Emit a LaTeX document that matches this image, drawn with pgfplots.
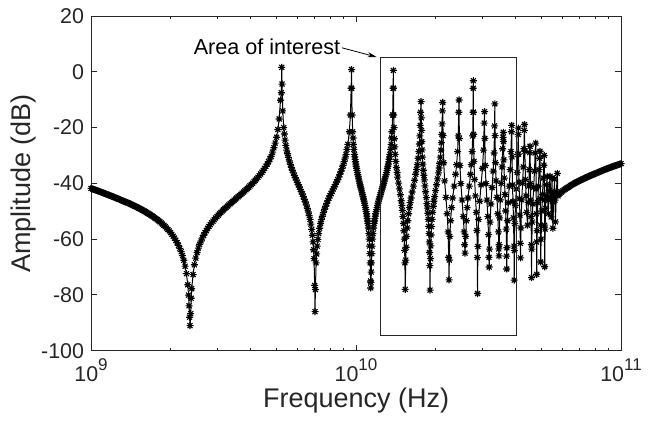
\documentclass[border=0pt]{standalone}
\usepackage{fontspec}
\setmainfont{Liberation Sans}
\usepackage{pgfplots}
\pgfplotsset{compat=1.18}
\usetikzlibrary{arrows.meta}
\definecolor{axgray}{RGB}{38,38,38}
\newcommand\expo[1]{\raisebox{0.52em}{\fontsize{8.5}{10}\selectfont #1}}
\pgfdeclareplotmark{mstar}{%
  \pgfpathmoveto{\pgfqpoint{-\pgfplotmarksize}{0pt}}\pgfpathlineto{\pgfqpoint{\pgfplotmarksize}{0pt}}%
  \pgfpathmoveto{\pgfqpoint{0pt}{-\pgfplotmarksize}}\pgfpathlineto{\pgfqpoint{0pt}{\pgfplotmarksize}}%
  \pgfpathmoveto{\pgfqpoint{-0.707\pgfplotmarksize}{-0.707\pgfplotmarksize}}\pgfpathlineto{\pgfqpoint{0.707\pgfplotmarksize}{0.707\pgfplotmarksize}}%
  \pgfpathmoveto{\pgfqpoint{-0.707\pgfplotmarksize}{0.707\pgfplotmarksize}}\pgfpathlineto{\pgfqpoint{0.707\pgfplotmarksize}{-0.707\pgfplotmarksize}}%
  \pgfusepathqstroke}
\begin{document}
\begin{tikzpicture}[x=1pt,y=1pt]
\useasboundingbox (0,0) rectangle (328,212.5);
\begin{axis}[
  at={(45.5pt,37.15pt)}, anchor=south west,
  scale only axis, width=265pt, height=167.35pt,
  xmode=log, xmin=1e9, xmax=1e11, ymin=-100, ymax=20,
  xtick={1e9,1e10,1e11},
  xticklabels={10\expo{9},10\expo{10},10\expo{11}},
  minor xtick={2e9,3e9,4e9,5e9,6e9,7e9,8e9,9e9,2e10,3e10,4e10,5e10,6e10,7e10,8e10,9e10},
  ytick={-100,-80,-60,-40,-20,0,20},
  yticklabels={-100,-80,-60,-40,-20,0,20},
  tick align=inside, tick pos=both,
  major tick length=2.8pt, minor tick length=1.6pt,
  axis line style={axgray, line width=0.5pt},
  every tick/.style={axgray, line width=0.5pt},
  tick label style={font=\fontsize{10.7}{12}\selectfont, text=axgray},
  xticklabel style={yshift=-0.5pt},
  xlabel={Frequency (Hz)}, ylabel={Amplitude (dB)},
  label style={font=\fontsize{13.5}{15}\selectfont, text=axgray},
  xlabel style={at={(axis description cs:0.5,-0.148)}, anchor=center},
  ylabel style={at={(axis description cs:-0.1283,0.5)}, anchor=center},
  clip mode=individual,
  /pgf/number format/assume math mode=true,
]
\addplot[black, line width=0.5pt, mark=mstar, mark size=1.75pt, mark options={solid, line width=0.55pt}] coordinates {
(1.0000e9,-41.80) (1.0116e9,-41.98) (1.0233e9,-42.15) (1.0351e9,-42.33) (1.0471e9,-42.50)
(1.0592e9,-42.68) (1.0715e9,-42.86) (1.0839e9,-43.03) (1.0965e9,-43.20) (1.1092e9,-43.39)
(1.1220e9,-43.57) (1.1350e9,-43.76) (1.1482e9,-43.94) (1.1615e9,-44.13) (1.1749e9,-44.31)
(1.1885e9,-44.50) (1.2023e9,-44.68) (1.2162e9,-44.88) (1.2303e9,-45.07) (1.2445e9,-45.26)
(1.2589e9,-45.45) (1.2735e9,-45.65) (1.2882e9,-45.85) (1.3031e9,-46.06) (1.3183e9,-46.26)
(1.3336e9,-46.47) (1.3490e9,-46.68) (1.3646e9,-46.86) (1.3804e9,-47.03) (1.3964e9,-47.25)
(1.4125e9,-47.47) (1.4289e9,-47.70) (1.4454e9,-47.92) (1.4621e9,-48.15) (1.4791e9,-48.38)
(1.4962e9,-48.63) (1.5136e9,-48.87) (1.5311e9,-49.12) (1.5488e9,-49.37) (1.5667e9,-49.64)
(1.5849e9,-49.90) (1.6033e9,-50.18) (1.6218e9,-50.46) (1.6406e9,-50.75) (1.6596e9,-51.04)
(1.6788e9,-51.35) (1.6982e9,-51.66) (1.7179e9,-51.99) (1.7378e9,-52.32) (1.7579e9,-52.67)
(1.7783e9,-53.03) (1.7989e9,-53.40) (1.8197e9,-53.78) (1.8408e9,-54.19) (1.8621e9,-54.61)
(1.8837e9,-55.05) (1.9055e9,-55.51) (1.9276e9,-56.01) (1.9498e9,-56.52) (1.9724e9,-57.07)
(1.9953e9,-57.64) (2.0184e9,-58.27) (2.0417e9,-58.93) (2.0653e9,-59.66) (2.0893e9,-60.43)
(2.1135e9,-61.30) (2.1380e9,-62.23) (2.1628e9,-63.30) (2.1878e9,-64.50) (2.2131e9,-65.90)
(2.2387e9,-67.58) (2.2646e9,-69.70) (2.2909e9,-72.37) (2.3174e9,-76.35) (2.3335e9,-80.07)
(2.3442e9,-83.90) (2.3550e9,-88.0) (2.3637e9,-91.0)
(2.3768e9,-86.7) (2.3878e9,-81.2) (2.3988e9,-77.77) (2.4266e9,-72.7) (2.4548e9,-69.18)
(2.4832e9,-66.8) (2.5119e9,-64.80) (2.5410e9,-63.2) (2.5704e9,-61.84) (2.6002e9,-60.65)
(2.6303e9,-59.57) (2.6608e9,-58.6) (2.6915e9,-57.72) (2.7227e9,-56.9) (2.7543e9,-56.15)
(2.7862e9,-55.45) (2.8184e9,-54.78) (2.8510e9,-54.15) (2.8841e9,-53.55) (2.9175e9,-52.98)
(2.9512e9,-52.42) (2.9854e9,-51.9) (3.0200e9,-51.38) (3.0550e9,-50.89) (3.0903e9,-50.40)
(3.1261e9,-49.94) (3.1623e9,-49.48) (3.1989e9,-49.03) (3.2359e9,-48.59) (3.2734e9,-48.16)
(3.3113e9,-47.73) (3.3496e9,-47.31) (3.3884e9,-46.89) (3.4276e9,-46.47) (3.4674e9,-46.05)
(3.5076e9,-45.63) (3.5481e9,-45.22) (3.5892e9,-44.81) (3.6308e9,-44.40) (3.6728e9,-43.98)
(3.7154e9,-43.56) (3.7584e9,-43.13) (3.8019e9,-42.71) (3.8459e9,-42.27) (3.8905e9,-41.83)
(3.9356e9,-41.37) (3.9811e9,-40.91) (4.0272e9,-40.43) (4.0738e9,-39.95) (4.1210e9,-39.43)
(4.1687e9,-38.92) (4.2170e9,-38.37) (4.2658e9,-37.82) (4.3152e9,-37.23) (4.3652e9,-36.65)
(4.4158e9,-36.0) (4.4668e9,-35.35) (4.5185e9,-34.62) (4.5709e9,-33.90) (4.6238e9,-33.07)
(4.6774e9,-32.24) (4.7316e9,-31.27) (4.7863e9,-30.29) (4.8417e9,-28.8) (4.8978e9,-27.25)
(4.9545e9,-25.55) (5.0119e9,-23.47) (5.0699e9,-20.7) (5.1286e9,-16.91) (5.1880e9,-10.2)
(5.2240e9,-7.5) (5.2432e9,1.6)
(5.2590e9,-4.4) (5.2894e9,-14.0) (5.3346e9,-20.0) (5.3661e9,-22.3) (5.3976e9,-24.5)
(5.4369e9,-26.4) (5.4765e9,-28.1) (5.5157e9,-29.4) (5.5552e9,-30.7) (5.6040e9,-32.0)
(5.6533e9,-33.2) (5.7023e9,-34.3) (5.7518e9,-35.3) (5.8023e9,-36.25) (5.8533e9,-37.2)
(5.9041e9,-38.0) (5.9553e9,-38.85) (6.0077e9,-39.7) (6.0605e9,-40.5) (6.1130e9,-41.3)
(6.1660e9,-42.15) (6.2195e9,-43.0) (6.2734e9,-43.8) (6.3285e9,-44.7) (6.3841e9,-45.7)
(6.4395e9,-46.7) (6.4953e9,-47.77) (6.5525e9,-49.0) (6.6101e9,-50.27) (6.6577e9,-51.55)
(6.7052e9,-52.9) (6.7541e9,-54.6) (6.8031e9,-56.5) (6.8425e9,-58.6) (6.8818e9,-61.0)
(6.9120e9,-63.8) (6.9423e9,-67.0) (6.9823e9,-76.6) (7.0033e9,-86.0)
(7.0259e9,-78.1) (7.0697e9,-68.5) (7.1041e9,-65.3) (7.1385e9,-62.5) (7.1840e9,-60.1)
(7.2294e9,-58.0) (7.2873e9,-56.1) (7.3452e9,-54.4) (7.4030e9,-53.0) (7.4611e9,-51.8)
(7.5329e9,-50.5) (7.6051e9,-49.3) (7.6783e9,-48.2) (7.7518e9,-47.2) (7.8255e9,-46.2)
(7.8995e9,-45.3) (7.9755e9,-44.45) (8.0520e9,-43.65) (8.1295e9,-42.8) (8.2073e9,-42.0)
(8.2853e9,-41.2) (8.3637e9,-40.35) (8.4443e9,-39.5) (8.5252e9,-38.7) (8.6062e9,-37.75)
(8.6876e9,-36.8) (8.7712e9,-35.75) (8.8552e9,-34.7) (8.9405e9,-33.5) (9.0262e9,-32.2)
(9.0972e9,-30.9) (9.1686e9,-29.6) (9.2420e9,-27.8) (9.3153e9,-26.0) (9.4341e9,-21.5)
(9.5258e9,-15.5) (9.5852e9,-5.9) (9.6161e9,0.8)
(9.6317e9,-5.9) (9.6650e9,-15.5) (9.7141e9,-21.5) (9.7466e9,-23.75) (9.7791e9,-26.0)
(9.8198e9,-27.8) (9.8606e9,-29.6) (9.8896e9,-30.5) (9.9186e9,-31.4) (9.9478e9,-32.25)
(9.9770e9,-33.1) (1.00105e10,-33.85) (1.0044e10,-34.6) (1.00775e10,-35.35) (1.0111e10,-36.1)
(1.0153e10,-36.9) (1.0195e10,-37.65) (1.02375e10,-38.4) (1.0280e10,-39.2) (1.03235e10,-39.9)
(1.0367e10,-40.6) (1.04105e10,-41.3) (1.0454e10,-42.0) (1.04975e10,-42.7) (1.0541e10,-43.4)
(1.0585e10,-44.1) (1.0629e10,-44.8) (1.0674e10,-45.6) (1.0719e10,-46.35) (1.0764e10,-47.1)
(1.0809e10,-47.9) (1.08455e10,-48.65) (1.0882e10,-49.4) (1.09185e10,-50.15) (1.0955e10,-50.9)
(1.09865e10,-51.75) (1.1018e10,-52.6) (1.1050e10,-53.5) (1.1082e10,-54.4) (1.1129e10,-56.0)
(1.1176e10,-58.0) (1.12135e10,-60.0) (1.1251e10,-62.5) (1.12785e10,-65.2) (1.1306e10,-68.5)
(1.1345e10,-75.0) (1.1363e10,-77.5)
(1.1387e10,-75.5) (1.1409e10,-71.8) (1.1431e10,-68.5) (1.1464e10,-65.2) (1.1497e10,-62.5)
(1.15425e10,-60.0) (1.1588e10,-58.0) (1.16455e10,-56.0) (1.1703e10,-54.4) (1.17435e10,-53.5)
(1.1784e10,-52.6) (1.1825e10,-51.75) (1.1866e10,-50.9) (1.19125e10,-50.15) (1.1959e10,-49.4)
(1.2006e10,-48.65) (1.2053e10,-47.9) (1.21125e10,-47.1) (1.2172e10,-46.35) (1.2232e10,-45.6)
(1.2292e10,-44.8) (1.2353e10,-44.1) (1.2414e10,-43.4) (1.24755e10,-42.7) (1.2537e10,-42.0)
(1.2599e10,-41.3) (1.2661e10,-40.6) (1.2723e10,-39.9) (1.2785e10,-39.2) (1.2848e10,-38.4)
(1.2911e10,-37.65) (1.2974e10,-36.9) (1.3037e10,-36.1) (1.30885e10,-35.35) (1.3140e10,-34.6)
(1.31915e10,-33.85) (1.3243e10,-33.1) (1.3289e10,-32.2) (1.3335e10,-31.35) (1.33815e10,-30.5)
(1.3428e10,-29.6) (1.3495e10,-27.8) (1.3562e10,-26.0) (1.3615e10,-23.75) (1.3668e10,-21.5)
(1.3747e10,-15.5) (1.3801e10,-5.9) (1.3830e10,0.5)
(1.3845e10,-5.9) (1.3875e10,-15.5) (1.39125e10,-20.0) (1.3950e10,-24.0) (1.4003e10,-26.9)
(1.4056e10,-29.6) (1.41315e10,-32.1) (1.4207e10,-34.3) (1.4282e10,-36.1) (1.4357e10,-37.75)
(1.4470e10,-39.9) (1.4583e10,-42.0) (1.4696e10,-44.1) (1.4809e10,-46.25) (1.48845e10,-47.9)
(1.4960e10,-49.7) (1.5035e10,-51.9) (1.5110e10,-54.4) (1.5163e10,-57.0) (1.5216e10,-60.0)
(1.52535e10,-64.0) (1.5291e10,-68.5) (1.5336e10,-78.0)
(1.5404e10,-67.5) (1.5460e10,-62.9) (1.5516e10,-59.0) (1.5595e10,-56.0) (1.5674e10,-53.4)
(1.5787e10,-50.9) (1.5900e10,-48.7) (1.60125e10,-46.9) (1.6125e10,-45.25) (1.62945e10,-43.1)
(1.6464e10,-41.0) (1.6633e10,-38.9) (1.6802e10,-36.75) (1.69145e10,-35.0) (1.7027e10,-33.3)
(1.7140e10,-31.0) (1.7253e10,-28.6) (1.7332e10,-25.9) (1.7411e10,-23.0) (1.7467e10,-19.2)
(1.7523e10,-14.5) (1.7591e10,-10.7)
(1.7634e10,-16.5) (1.76695e10,-21.0) (1.7705e10,-25.0) (1.7755e10,-28.0) (1.7805e10,-30.6)
(1.78765e10,-33.1) (1.7948e10,-35.3) (1.80195e10,-37.1) (1.8091e10,-38.75) (1.81985e10,-40.9)
(1.8306e10,-43.0) (1.8413e10,-45.1) (1.8520e10,-47.25) (1.85915e10,-48.9) (1.8663e10,-50.7)
(1.87345e10,-52.9) (1.8806e10,-55.4) (1.8856e10,-58.0) (1.8906e10,-61.0) (1.89415e10,-64.8)
(1.8977e10,-69.5) (1.9020e10,-78.3)
(1.9087e10,-67.0) (1.91425e10,-62.4) (1.9198e10,-58.5) (1.92755e10,-55.5) (1.9353e10,-52.9)
(1.94645e10,-50.4) (1.9576e10,-48.2) (1.9687e10,-46.4) (1.9798e10,-44.75) (1.99645e10,-42.6)
(2.0131e10,-40.5) (2.02975e10,-38.4) (2.0464e10,-36.25) (2.05755e10,-34.5) (2.0687e10,-32.8)
(2.0798e10,-30.6) (2.0909e10,-28.1) (2.09865e10,-25.4) (2.1064e10,-22.5) (2.11195e10,-18.7)
(2.1175e10,-14.0) (2.1242e10,-11.0)
(2.1302e10,-22.9) (2.1421e10,-32.6) (2.1599e10,-39.1) (2.1838e10,-45.0) (2.2076e10,-50.9)
(2.2254e10,-57.4) (2.2373e10,-66.5) (2.2433e10,-74.6)
(2.2494e10,-67.5) (2.2596e10,-59.0) (2.2739e10,-53.4) (2.2943e10,-48.7) (2.3147e10,-45.25)
(2.3453e10,-41.0) (2.3759e10,-36.75) (2.3963e10,-33.3) (2.4167e10,-28.6) (2.4310e10,-23.0)
(2.4412e10,-14.5) (2.4473e10,-10.1)
(2.4538e10,-23.9) (2.4669e10,-33.6) (2.4865e10,-40.1) (2.5127e10,-46.0) (2.5389e10,-51.9)
(2.5585e10,-57.4) (2.5716e10,-62.0) (2.5781e10,-65.0)
(2.5935e10,-59.0) (2.6070e10,-53.4) (2.6263e10,-48.7) (2.6455e10,-45.25) (2.6744e10,-41.0)
(2.7033e10,-36.75) (2.7226e10,-33.3) (2.7418e10,-28.6) (2.7553e10,-23.0) (2.7649e10,-14.5)
(2.7688e10,-5.9) (2.7707e10,-3.2)
(2.7728e10,-14.5) (2.7759e10,-22.4) (2.7862e10,-32.1) (2.8017e10,-38.6) (2.8224e10,-44.5)
(2.8431e10,-50.4) (2.8586e10,-56.9) (2.8689e10,-66.6) (2.8741e10,-79.5)
(2.8831e10,-62.6) (2.9011e10,-52.9) (2.9282e10,-46.4) (2.9642e10,-40.5) (3.0002e10,-34.6)
(3.0273e10,-28.1) (3.0453e10,-18.4) (3.0543e10,-14.3)
(3.0606e10,-23.9) (3.0734e10,-33.6) (3.0924e10,-40.1) (3.1178e10,-46.0) (3.1432e10,-51.9)
(3.1623e10,-58.4) (3.1750e10,-66.5) (3.1813e10,-70.0)
(3.1893e10,-63.6) (3.2052e10,-53.9) (3.2290e10,-47.4) (3.2609e10,-41.5) (3.2927e10,-35.6)
(3.3165e10,-29.1) (3.3324e10,-19.4) (3.3404e10,-11.5)
(3.3466e10,-22.9) (3.3590e10,-32.6) (3.3775e10,-39.1) (3.4023e10,-45.0) (3.4270e10,-50.9)
(3.4455e10,-57.4) (3.4579e10,-63.5) (3.4641e10,-66.0)
(3.4707e10,-62.0) (3.4839e10,-52.4) (3.5036e10,-45.9) (3.5300e10,-40.0) (3.5563e10,-34.1)
(3.5760e10,-27.6) (3.5892e10,-23.5) (3.5958e10,-21.7)
(3.6012e10,-25.0) (3.6121e10,-31.6) (3.6284e10,-38.1) (3.6501e10,-44.0) (3.6718e10,-49.9)
(3.6880e10,-56.4) (3.6989e10,-66.1) (3.7043e10,-70.7)
(3.7125e10,-63.1) (3.7289e10,-53.4) (3.7534e10,-46.9) (3.7862e10,-41.0) (3.8190e10,-35.1)
(3.8435e10,-28.6) (3.8599e10,-21.5) (3.8681e10,-19.2)
(3.8767e10,-30.5) (3.8938e10,-40.6) (3.9109e10,-46.5) (3.9280e10,-52.4) (3.9451e10,-62.5)
(3.9537e10,-74.7)
(3.9609e10,-64.1) (3.9752e10,-54.4) (3.9968e10,-47.9) (4.0255e10,-42.0) (4.0542e10,-36.1)
(4.0758e10,-29.6) (4.0901e10,-22.5) (4.0973e10,-20.2)
(4.1052e10,-29.5) (4.1210e10,-39.6) (4.1369e10,-45.5) (4.1527e10,-51.4) (4.1685e10,-61.5)
(4.1764e10,-66.7)
(4.1911e10,-56.0) (4.2204e10,-45.9) (4.2498e10,-40.0) (4.2792e10,-34.1) (4.3012e10,-27.6)
(4.3159e10,-21.0) (4.3232e10,-18.9)
(4.3347e10,-28.5) (4.3577e10,-38.6) (4.3807e10,-44.5) (4.4037e10,-50.4) (4.4382e10,-55.0)
(4.4673e10,-46.9) (4.4867e10,-41.0) (4.5061e10,-35.1) (4.5255e10,-29.0) (4.5352e10,-26.7)
(4.5532e10,-40.1) (4.5652e10,-46.0) (4.5772e10,-51.9) (4.5892e10,-62.0) (4.5952e10,-73.8)
(4.6037e10,-63.6) (4.6207e10,-53.9) (4.6463e10,-47.4) (4.6804e10,-41.5) (4.7144e10,-35.6)
(4.7400e10,-29.1) (4.7655e10,-25.6)
(4.7822e10,-42.0) (4.7948e10,-50.9) (4.8031e10,-61.0) (4.8073e10,-72.6)
(4.8212e10,-57.0) (4.8491e10,-46.9) (4.8769e10,-41.0) (4.9047e10,-35.1) (4.9298e10,-31.0)
(4.9465e10,-28.5)
(4.9620e10,-45.5) (4.9712e10,-55.0) (4.9774e10,-68.2)
(4.9928e10,-60.0) (5.0235e10,-49.9) (5.0542e10,-44.0) (5.0849e10,-38.1) (5.1126e10,-33.5)
(5.1310e10,-30.0)
(5.1423e10,-46.0) (5.1490e10,-55.0) (5.1535e10,-69.9)
(5.1691e10,-56.4) (5.1900e10,-49.0) (5.2109e10,-44.5) (5.2369e10,-40.5) (5.2578e10,-37.5)
(5.2876e10,-45.5) (5.3174e10,-50.8) (5.3569e10,-42.5) (5.3963e10,-37.5)
(5.4245e10,-45.0) (5.4526e10,-52.0) (5.4715e10,-43.0) (5.4903e10,-38.0)
(5.5094e10,-46.5) (5.5284e10,-56.1) (5.5701e10,-45.0) (5.6118e10,-38.5)
(5.6338e10,-46.0) (5.6558e10,-53.8) (5.7025e10,-43.0) (5.7491e10,-36.4)
(5.7800e10,-44.5) (5.8300e10,-44.0) (5.8884e10,-43.5) (5.9566e10,-43.1) (6.0256e10,-42.7)
(6.0954e10,-42.35) (6.1660e10,-42.0) (6.2374e10,-41.7) (6.3096e10,-41.4) (6.3827e10,-41.1)
(6.4565e10,-40.8) (6.5313e10,-40.5) (6.6069e10,-40.2) (6.6834e10,-39.95) (6.7608e10,-39.7)
(6.8391e10,-39.45) (6.9183e10,-39.2) (6.9984e10,-38.97) (7.0795e10,-38.75) (7.1615e10,-38.52)
(7.2444e10,-38.3) (7.3283e10,-38.07) (7.4131e10,-37.85) (7.4990e10,-37.62) (7.5858e10,-37.4)
(7.6737e10,-37.2) (7.7625e10,-37.0) (7.8524e10,-36.8) (7.9433e10,-36.6) (8.0353e10,-36.4)
(8.1283e10,-36.2) (8.2224e10,-36.0) (8.3176e10,-35.8) (8.4139e10,-35.6) (8.5114e10,-35.4)
(8.6100e10,-35.2) (8.7096e10,-35.0) (8.8105e10,-34.82) (8.9125e10,-34.65) (9.0157e10,-34.47)
(9.1201e10,-34.3) (9.2257e10,-34.12) (9.3325e10,-33.95) (9.4406e10,-33.77) (9.5499e10,-33.6)
(9.6605e10,-33.42) (9.7724e10,-33.25) (9.8856e10,-33.07) (1.0000e11,-32.9)
};
\draw[axgray, line width=0.5pt] (axis cs:1.232e10,-94.7) rectangle (axis cs:4.016e10,5.2);
\draw[black, line width=0.4pt, -{Stealth[length=4.5pt,width=2.6pt]}] (axis cs:8.85e9,8.6) -- (axis cs:1.195e10,5.3);
\node[anchor=base east, inner sep=0pt, font=\fontsize{10.8}{12}\selectfont, text=black] at (axis cs:8.75e9,6.3) {Area of interest};
\end{axis}
\end{tikzpicture}
\end{document}
